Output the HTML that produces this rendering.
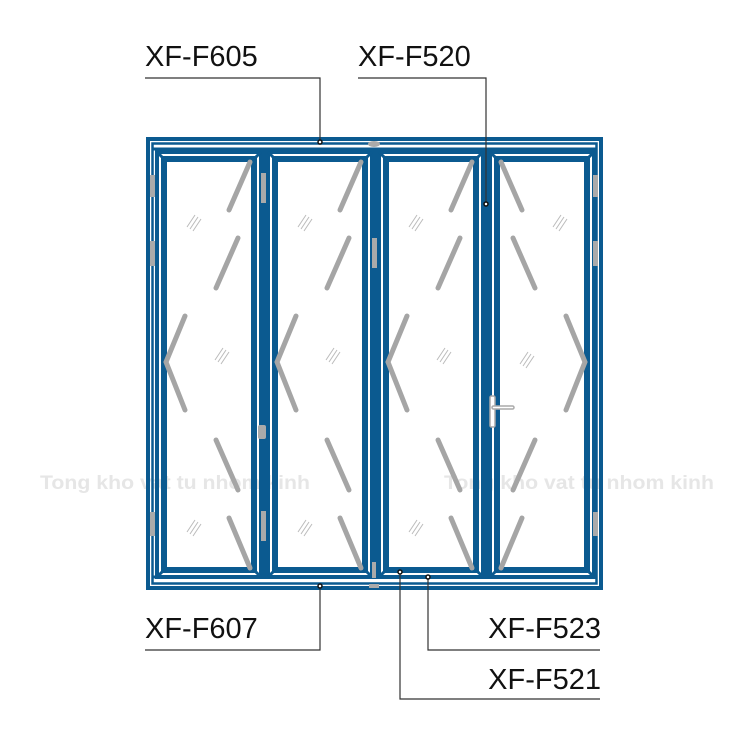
<!DOCTYPE html>
<html><head><meta charset="utf-8"><style>
html,body{margin:0;padding:0;background:#fff;}
svg{display:block;}
text{font-family:"Liberation Sans",sans-serif;}
</style></head><body>
<svg width="751" height="751" viewBox="0 0 751 751" xmlns="http://www.w3.org/2000/svg">
<defs>
<g id="pat" stroke="#a5a5a5" stroke-width="5" stroke-linecap="round" fill="none">
  <line x1="87" y1="4" x2="66" y2="52"/>
  <line x1="75" y1="80" x2="53" y2="130"/>
  <polyline points="22,158 3,204 22,252"/>
  <line x1="53" y1="282" x2="75" y2="332"/>
  <line x1="66" y1="360" x2="87" y2="410"/>
</g>
<g id="marks" stroke="#bbb" stroke-width="1" fill="none">
  <line x1="0" y1="12" x2="8" y2="0"/><line x1="3" y1="14" x2="11" y2="2"/><line x1="6" y1="16" x2="14" y2="4"/>
</g>
</defs>

<!-- watermark -->
<g fill="#e6e6e6" font-size="19" font-weight="bold">
<text x="40" y="489" textLength="270" lengthAdjust="spacingAndGlyphs">Tong kho vat tu nhom kinh</text>
<text x="444" y="489" textLength="270" lengthAdjust="spacingAndGlyphs">Tong kho vat tu nhom kinh</text>
</g>

<!-- frame -->
<g fill="none" stroke="#0b5a90">
<rect x="148" y="139" width="453" height="449" stroke-width="4"/>
<rect x="152.5" y="143.5" width="444" height="440" stroke-width="2.5"/>
</g>
<line x1="152" y1="149" x2="597" y2="149" stroke="#0b5a90" stroke-width="3"/>
<line x1="152" y1="577" x2="597" y2="577" stroke="#0b5a90" stroke-width="3"/>

<!-- panels -->
<g fill="none" stroke="#0b5a90">
  <rect x="157" y="152" width="104" height="425" stroke-width="4"/>
  <rect x="268" y="152" width="104" height="425" stroke-width="4"/>
  <rect x="379" y="152" width="104" height="425" stroke-width="4"/>
  <rect x="490" y="152" width="104" height="425" stroke-width="4"/>
  <rect x="164" y="159" width="90" height="411" stroke-width="6"/>
  <rect x="275" y="159" width="90" height="411" stroke-width="6"/>
  <rect x="386" y="159" width="90" height="411" stroke-width="6"/>
  <rect x="497" y="159" width="90" height="411" stroke-width="6"/>
</g>
<g stroke="#0b5a90" stroke-width="3">
  <line x1="157" y1="152" x2="164" y2="159"/><line x1="261" y1="152" x2="254" y2="159"/>
  <line x1="157" y1="577" x2="164" y2="570"/><line x1="261" y1="577" x2="254" y2="570"/>
  <line x1="268" y1="152" x2="275" y2="159"/><line x1="372" y1="152" x2="365" y2="159"/>
  <line x1="268" y1="577" x2="275" y2="570"/><line x1="372" y1="577" x2="365" y2="570"/>
  <line x1="379" y1="152" x2="386" y2="159"/><line x1="483" y1="152" x2="476" y2="159"/>
  <line x1="379" y1="577" x2="386" y2="570"/><line x1="483" y1="577" x2="476" y2="570"/>
  <line x1="490" y1="152" x2="497" y2="159"/><line x1="594" y1="152" x2="587" y2="159"/>
  <line x1="490" y1="577" x2="497" y2="570"/><line x1="594" y1="577" x2="587" y2="570"/>
</g>
<g stroke="#0b5a90" stroke-width="3">
<line x1="264.5" y1="150" x2="264.5" y2="579"/>
<line x1="375.5" y1="150" x2="375.5" y2="579"/>
<line x1="486.5" y1="150" x2="486.5" y2="579"/>
</g>

<!-- glass patterns -->
<use href="#pat" x="163" y="158"/>
<use href="#pat" x="274" y="158"/>
<use href="#pat" x="385" y="158"/>
<use href="#pat" transform="translate(588,158) scale(-1,1)"/>
<use href="#marks" x="187" y="215"/><use href="#marks" x="215" y="348"/><use href="#marks" x="187" y="520"/>
<use href="#marks" x="298" y="215"/><use href="#marks" x="326" y="348"/><use href="#marks" x="298" y="520"/>
<use href="#marks" x="409" y="215"/><use href="#marks" x="437" y="348"/><use href="#marks" x="409" y="520"/>
<use href="#marks" x="553" y="215"/><use href="#marks" x="520" y="352"/>

<!-- hinges -->
<g fill="#aaa">
<rect x="150" y="175" width="5" height="22"/><rect x="150" y="241" width="5" height="25"/>
<rect x="150" y="512" width="5" height="24"/>
<rect x="593" y="175" width="5" height="22"/><rect x="593" y="241" width="5" height="25"/>
<rect x="593" y="512" width="5" height="24"/>
<rect x="261" y="173" width="5" height="30"/><rect x="261" y="511" width="5" height="30"/>
<rect x="372" y="238" width="5" height="30"/>
<rect x="258" y="425" width="8" height="14" rx="2"/>
<rect x="372" y="562" width="4" height="16"/><rect x="369" y="584" width="10" height="4"/>
<ellipse cx="374" cy="144" rx="6" ry="3"/>
</g>
<g fill="#fff" stroke="#aaa" stroke-width="1.5">
<rect x="490" y="396" width="5" height="31" rx="1.5"/>
<rect x="492" y="406" width="22" height="3" rx="1.5"/>
</g>

<!-- callouts -->
<g stroke="#333" stroke-width="1.2" fill="none">
<polyline points="145,78 320,78 320,141"/>
<polyline points="358,78 486,78 486,204"/>
<polyline points="145,650 320,650 320,586"/>
<polyline points="600,650 428,650 428,576"/>
<polyline points="600,699 400,699 400,572"/>
</g>
<g fill="#fff" stroke="#111" stroke-width="1.5">
<circle cx="320" cy="142" r="2"/><circle cx="486" cy="204" r="2"/>
<circle cx="320" cy="586" r="2"/><circle cx="428" cy="577" r="2"/><circle cx="400" cy="572" r="2"/>
</g>
<g fill="#111" font-size="29">
<text x="145" y="66">XF-F605</text>
<text x="358" y="66">XF-F520</text>
<text x="145" y="638">XF-F607</text>
<text x="601" y="638" text-anchor="end">XF-F523</text>
<text x="601" y="689" text-anchor="end">XF-F521</text>
</g>
</svg>
</body></html>
